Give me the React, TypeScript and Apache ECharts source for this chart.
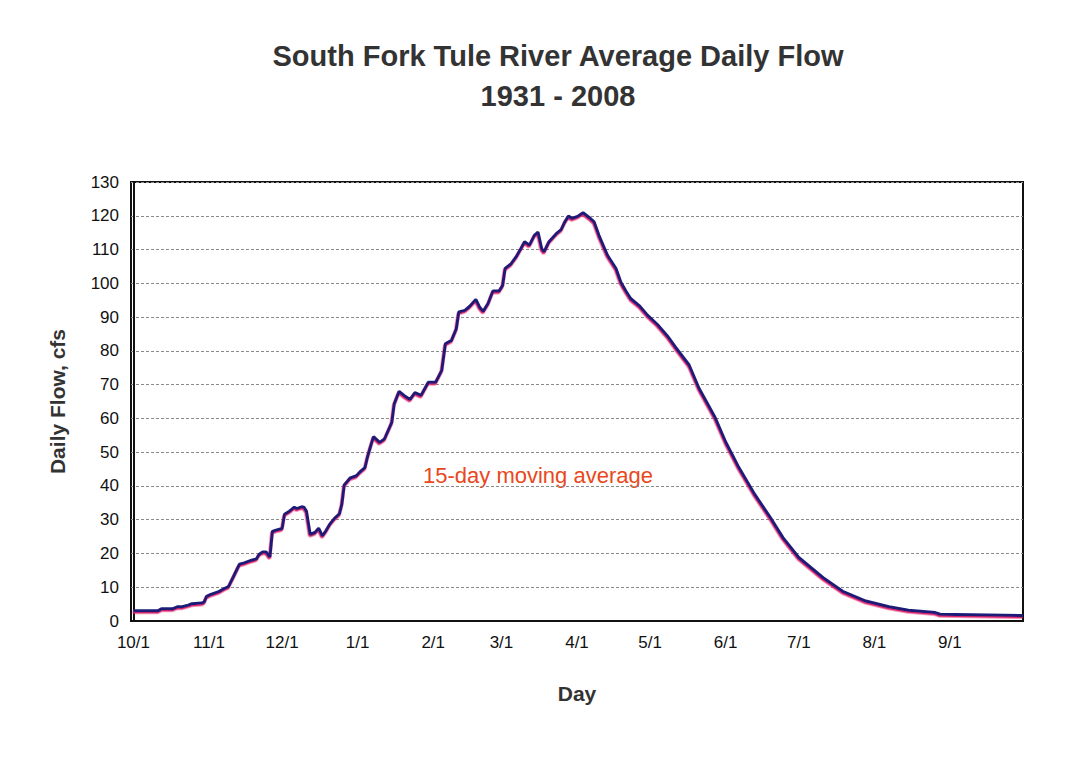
import React, { useEffect, useRef } from "react";
import * as echarts from "echarts";

// Day index from Oct 1 (0) and average daily flow (cfs)
const days = [
  0, 10, 11.5, 16, 18, 20, 22.5, 24, 28, 29, 30, 31.5, 35, 37.5, 39, 41, 43.5, 45.5, 48.5, 50.5,
  51.5, 53, 54.5, 56, 57, 58.5, 61, 62, 64, 66, 67, 69, 70, 71, 72.5, 74.5, 76, 77.5, 79, 80.5,
  82.5, 84.5, 85.5, 86.5, 89, 91.5, 93, 95, 96, 97, 98.5, 101, 103, 106, 107, 109, 111, 113.5,
  115.5, 118, 121, 124, 126.5, 128, 130.5, 132.5, 133.5, 136, 138, 140.5, 142, 143.5, 145.5,
  147.5, 150, 151.5, 152.5, 155, 157, 159, 160.5, 162.5, 164.5, 166, 167.5, 168.5, 170.5, 173.5,
  175.5, 177, 178.5, 180, 182.5, 184.5, 187, 189, 191, 194.5, 198, 200, 202, 204, 207.5, 211,
  215, 219, 222.5, 228, 232, 238.5, 243, 248, 255, 261, 266.5, 273, 283, 291, 300.5, 310, 318,
  329, 331, 365,
];
const flows = [
  3, 3, 3.6, 3.6, 4.2, 4.2, 4.7, 5.1, 5.3, 5.6, 7.3, 7.8, 8.7, 9.7, 10.2, 13.1, 16.8, 17.2, 18, 18.4,
  19.7, 20.4, 20.4, 18.9, 26.5, 26.9, 27.4, 31.6, 32.5, 33.7, 33.3, 33.8, 33.7, 32.5, 25.7, 26.2,
  27.5, 25.2, 26.7, 28.6, 30.4, 31.7, 34.5, 40.3, 42.4, 43, 44.2, 45.4, 48.5, 51, 54.6, 52.9, 53.9,
  58.8, 64.3, 68, 66.8, 65.6, 67.6, 66.8, 70.7, 70.7, 74.2, 82.1, 83.1, 86.6, 91.5, 92, 93.2, 95.2,
  93, 91.7, 94, 97.7, 97.7, 99.4, 104.4, 105.8, 107.8, 110.3, 112.3, 111.3, 114.2, 115.2, 110.3,
  109.3, 112.3, 114.7, 115.9, 118.2, 119.9, 119.2, 119.9, 120.9, 119.5, 118.2, 114.2, 108.3, 104.4,
  100.3, 97.8, 95.5, 93.4, 90.5, 87.8, 84.5, 81, 75.8, 69, 60.5, 53, 46, 37.4, 31, 24.7, 18.8, 12.8,
  8.8, 5.9, 4.2, 3.2, 2.5, 2.0, 1.6,
];

// Month tick labels and their day offsets from Oct 1
const monthLabels = ["10/1", "11/1", "12/1", "1/1", "2/1", "3/1", "4/1", "5/1", "6/1", "7/1", "8/1", "9/1"];
const monthDays = [0, 31, 61, 92, 123, 151, 182, 212, 243, 273, 304, 335];

const titleText = "South Fork Tule River Average Daily Flow\n1931 - 2008";
const noteText = "15-day moving average";

export default function App() {
  const ref = useRef<HTMLDivElement>(null);
  useEffect(() => {
    document.body.style.margin = "0";
    if (!ref.current) return;
    const chart = echarts.init(ref.current, undefined, { renderer: "svg" });
    const font = "'Liberation Sans', Arial, sans-serif";
    chart.setOption({
      animation: false,
      backgroundColor: "#ffffff",
      textStyle: { fontFamily: font },
      title: {
        text: titleText,
        left: 553,
        top: 31,
        textAlign: "center",
        textStyle: {
          fontFamily: font,
          fontSize: 29,
          fontWeight: "bold",
          color: "#333",
          lineHeight: 40,
        },
      },
      grid: {
        left: 131,
        right: 65,
        top: 182,
        bottom: 156,
        show: true,
        borderColor: "#111",
        borderWidth: 2,
        backgroundColor: "transparent",
      },
      xAxis: {
        type: "value",
        min: -1,
        max: 365,
        interval: 1,
        name: "Day",
        nameLocation: "middle",
        nameGap: 62,
        nameTextStyle: { fontFamily: font, fontSize: 21, fontWeight: "bold", color: "#333" },
        axisLine: { show: true, lineStyle: { color: "#111", width: 2 } },
        axisTick: { show: false },
        splitLine: { show: false },
        axisLabel: {
          fontFamily: font,
          fontSize: 17,
          color: "#111",
          margin: 13,
          showMinLabel: true,
          showMaxLabel: true,
          formatter: (v: number) => {
            const i = monthDays.indexOf(Math.round(v));
            return i >= 0 && Math.abs(v - monthDays[i]) < 1e-6 ? monthLabels[i] : "";
          },
        },
      },
      yAxis: {
        type: "value",
        min: 0,
        max: 130,
        interval: 10,
        name: "Daily Flow, cfs",
        nameLocation: "middle",
        nameGap: 63,
        nameTextStyle: { fontFamily: font, fontSize: 21, fontWeight: "bold", color: "#333" },
        axisLine: { show: true, lineStyle: { color: "#111", width: 2 } },
        axisTick: { show: false },
        axisLabel: { fontFamily: font, fontSize: 17, color: "#111", margin: 12 },
        splitLine: { show: true, lineStyle: { color: "#8a8a8a", width: 1, type: [3, 2] } },
      },
      series: [
        {
          type: "line",
          data: days.map((d, i) => [d, flows[i]]),
          showSymbol: false,
          smooth: false,
          lineStyle: {
            color: "#1d1f78",
            width: 3,
            shadowColor: "#e0246a",
            shadowBlur: 0,
            shadowOffsetY: 1.5,
            shadowOffsetX: -0.5,
          },
          z: 3,
        },
      ],
      graphic: [
        {
          type: "text",
          left: 423,
          top: 464,
          style: {
            text: noteText,
            fontFamily: font,
            fontSize: 22,
            fill: "#e8481c",
          },
        },
      ],
    });
    return () => chart.dispose();
  }, []);
  return <div ref={ref} style={{ width: 1088, height: 777 }} />;
}
